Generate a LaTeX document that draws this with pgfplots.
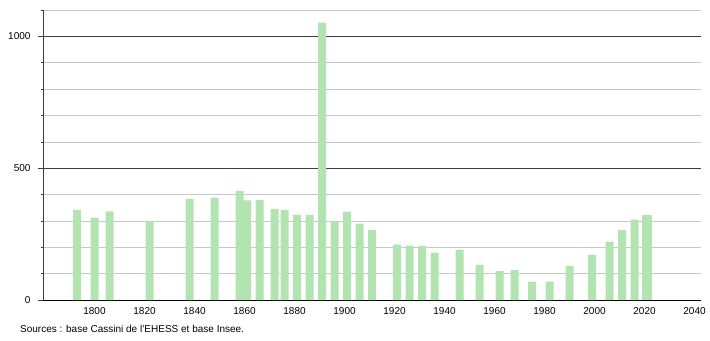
\documentclass[border=0pt]{standalone}
\usepackage{fontspec}
\setmainfont{Liberation Sans}
\usepackage{pgfplots}
\pgfplotsset{compat=1.18}
\definecolor{barg}{RGB}{178,228,178}
\definecolor{gridl}{RGB}{200,200,200}
\definecolor{gridd}{RGB}{60,60,60}
\begin{document}
\begin{tikzpicture}[x=1bp,y=1bp]
\path[use as bounding box] (0,0) rectangle (710,340);
\begin{axis}[
  at={(43bp,40bp)}, anchor=south west,
  scale only axis, width=658bp, height=290bp,
  xmin=1779.4, xmax=2042.6, ymin=0, ymax=1100,
  axis lines=left, axis line style={-},
  x axis line style={black, line width=0.8pt},
  y axis line style={gridd, line width=0.6pt},
  xtick={1800,1820,...,2040},
  ytick={0,500,1000},
  minor ytick={100,200,...,1100},
  major x tick style={draw=none},
  tick align=outside,
  major tick length=5bp, minor tick length=2.5bp,
  ymajorgrids, yminorgrids,
  major grid style={gridd, line width=0.6pt},
  minor grid style={gridl, line width=0.6pt},
  every tick/.style={gridd, line width=0.5pt},
  /pgf/number format/assume math mode=true,
  /pgf/number format/1000 sep={},
  tick label style={font=\fontsize{10bp}{12bp}\selectfont, black},
  xticklabel style={yshift=1bp},
  yticklabel style={xshift=-4bp},
  clip=false,
]
\addplot[ybar, bar width=3.2, fill=barg, draw=none] coordinates {
(1793,342) (1800,312) (1806,336) (1822,299) (1838,384) (1848,388)
(1858,414) (1861,378) (1866,380) (1872,346) (1876,342) (1881,324)
(1886,322) (1891,1052) (1896,299) (1901,335) (1906,290) (1911,266)
(1921,210) (1926,206) (1931,205) (1936,180) (1946,191) (1954,133)
(1962,110) (1968,114) (1975,70) (1982,70) (1990,129) (1999,171)
(2006,221) (2011,266) (2016,305)
};
\addplot[ybar, bar width=4.2, fill=barg, draw=none] coordinates {(2021,324)};
\end{axis}
\node[anchor=base west, inner sep=0pt, font=\fontsize{10bp}{12bp}\selectfont] at (20bp,8bp) {Sources : base Cassini de l'EHESS et base Insee.};
\end{tikzpicture}
\end{document}
